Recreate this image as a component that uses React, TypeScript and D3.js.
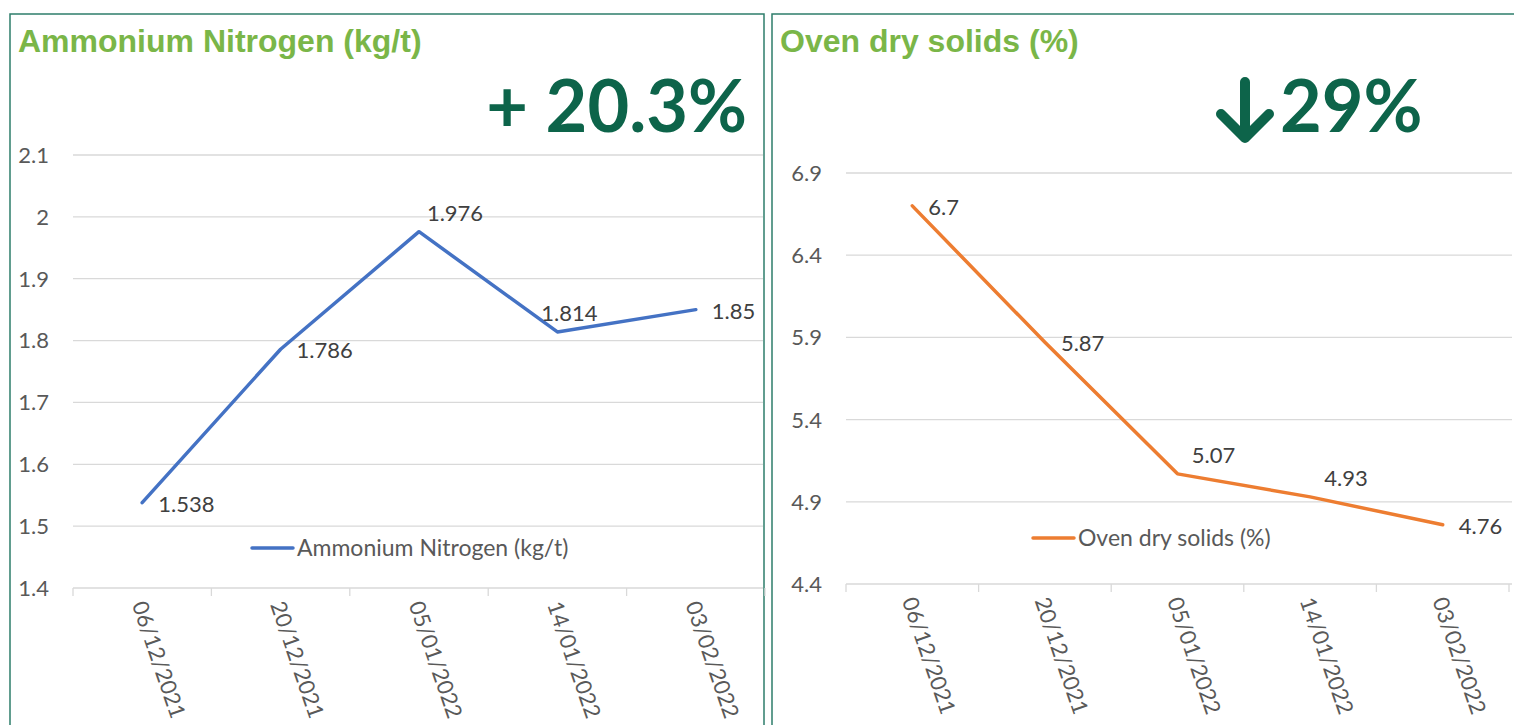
import React, { useEffect, useRef } from 'react';
import * as d3 from 'd3';

const dates = ['06/12/2021', '20/12/2021', '05/01/2022', '14/01/2022', '03/02/2022'];

const nitrogenValues = [1.538, 1.786, 1.976, 1.814, 1.85];
const nitrogenTicks = [1.4, 1.5, 1.6, 1.7, 1.8, 1.9, 2, 2.1];
const nitrogenLabelPos = ['right', 'right', 'aboveRight', 'above', 'right'];

const solidsValues = [6.7, 5.87, 5.07, 4.93, 4.76];
const solidsTicks = [4.4, 4.9, 5.4, 5.9, 6.4, 6.9];
const solidsLabelPos = ['right', 'right', 'aboveRight', 'aboveRight', 'right'];

const FONT = 'Lato, "Open Sans", sans-serif';
const TEXT = '#595959';
const GRID = '#D9D9D9';
const BORDER = '#2E7D6B';
const TITLE = '#7AB648';
const BIG = '#0D644A';

function drawPanel(svg, cfg) {
  const g = svg.append('g');

  // panel frame
  g.append('rect')
    .attr('x', cfg.frame[0])
    .attr('y', 14)
    .attr('width', cfg.frame[1] - cfg.frame[0])
    .attr('height', 760)
    .attr('fill', 'none')
    .attr('stroke', BORDER)
    .attr('stroke-width', 1.5);

  g.append('text')
    .attr('x', cfg.frame[0] + 8)
    .attr('y', 52)
    .attr('font-family', '"Liberation Sans", Arial, sans-serif')
    .attr('font-weight', 'bold')
    .attr('font-size', 32)
    .attr('fill', TITLE)
    .text(cfg.title);

  const x = d3.scaleBand().domain(dates).range([cfg.left, cfg.right]);
  const y = d3
    .scaleLinear()
    .domain(d3.extent(cfg.ticks))
    .range([cfg.bottom, cfg.top]);

  // gridlines
  g.selectAll('.grid')
    .data(cfg.ticks)
    .enter()
    .append('line')
    .attr('x1', cfg.left)
    .attr('x2', cfg.gridEnd)
    .attr('y1', d => y(d))
    .attr('y2', d => y(d))
    .attr('stroke', GRID)
    .attr('stroke-width', 1.3);

  // y tick labels
  g.selectAll('.ytick')
    .data(cfg.ticks)
    .enter()
    .append('text')
    .attr('x', cfg.left - 24)
    .attr('y', d => y(d))
    .attr('dy', '0.36em')
    .attr('text-anchor', 'end')
    .attr('font-family', FONT)
    .attr('font-size', 22)
    .attr('fill', TEXT)
    .text(d => String(d));

  // x tick marks
  const edges = dates.map(d => x(d)).concat([cfg.right]);
  g.selectAll('.xtick')
    .data(edges)
    .enter()
    .append('line')
    .attr('x1', d => d)
    .attr('x2', d => d)
    .attr('y1', cfg.bottom)
    .attr('y2', cfg.bottom + 8)
    .attr('stroke', GRID)
    .attr('stroke-width', 1.3);

  // rotated date labels
  g.selectAll('.xlabel')
    .data(dates)
    .enter()
    .append('text')
    .attr('transform', d => `translate(${x(d) + x.bandwidth() / 2 - 3}, ${cfg.bottom + 14}) rotate(71)`)
    .attr('dy', '0.36em')
    .attr('font-family', FONT)
    .attr('font-size', 22)
    .attr('fill', TEXT)
    .text(d => d);

  const cx = (_, i) => x(dates[i]) + x.bandwidth() / 2;

  const line = d3
    .line()
    .x(cx)
    .y(d => y(d));

  g.append('path')
    .datum(cfg.values)
    .attr('d', line)
    .attr('fill', 'none')
    .attr('stroke', cfg.color)
    .attr('stroke-width', 3.5)
    .attr('stroke-linecap', 'round')
    .attr('stroke-linejoin', 'round');

  // data labels
  g.selectAll('.dlabel')
    .data(cfg.values)
    .enter()
    .append('text')
    .attr('x', (d, i) => {
      const p = cfg.labelPos[i];
      if (p === 'right') return cx(d, i) + 16;
      if (p === 'aboveRight') return cx(d, i) + 36;
      return cx(d, i) + 12;
    })
    .attr('y', (d, i) => (cfg.labelPos[i] === 'right' ? y(d) + 1 : y(d) - 19))
    .attr('dy', '0.36em')
    .attr('text-anchor', (_, i) => (cfg.labelPos[i] === 'right' ? 'start' : 'middle'))
    .attr('font-family', FONT)
    .attr('font-size', 22)
    .attr('fill', '#404040')
    .text(d => String(d));

  // legend
  g.append('line')
    .attr('x1', cfg.legend[0])
    .attr('x2', cfg.legend[0] + 41)
    .attr('y1', cfg.legend[1])
    .attr('y2', cfg.legend[1])
    .attr('stroke', cfg.color)
    .attr('stroke-width', 3.5)
    .attr('stroke-linecap', 'round');

  g.append('text')
    .attr('x', cfg.legend[0] + 45)
    .attr('y', cfg.legend[1])
    .attr('dy', '0.36em')
    .attr('font-family', FONT)
    .attr('font-size', 23)
    .attr('fill', TEXT)
    .text(cfg.title);

  return g;
}

export default function App() {
  const ref = useRef(null);

  useEffect(() => {
    const svg = d3.select(ref.current);
    svg.selectAll('*').remove();

    drawPanel(svg, {
      title: 'Ammonium Nitrogen (kg/t)',
      frame: [10, 764],
      left: 73,
      right: 765,
      gridEnd: 763,
      top: 155,
      bottom: 588,
      ticks: nitrogenTicks,
      values: nitrogenValues,
      labelPos: nitrogenLabelPos,
      color: '#4472C4',
      legend: [252, 548]
    });

    const right = drawPanel(svg, {
      title: 'Oven dry solids (%)',
      frame: [772, 1520],
      left: 846,
      right: 1509,
      gridEnd: 1512,
      top: 173,
      bottom: 584,
      ticks: solidsTicks,
      values: solidsValues,
      labelPos: solidsLabelPos,
      color: '#ED7D31',
      legend: [1033, 538]
    });

    // headline figures
    svg.append('text')
      .attr('x', 747)
      .attr('y', 132)
      .attr('text-anchor', 'end')
      .attr('font-family', FONT)
      .attr('font-weight', 'bold')
      .attr('font-size', 72)
      .attr('fill', BIG)
      .text('+ 20.3%');

    right.append('path')
      .attr('d', 'M1245,82 L1245,137 M1221,114 L1245,138 L1269,114')
      .attr('fill', 'none')
      .attr('stroke', BIG)
      .attr('stroke-width', 10)
      .attr('stroke-linecap', 'round')
      .attr('stroke-linejoin', 'round');

    right.append('text')
      .attr('x', 1280)
      .attr('y', 132)
      .attr('font-family', FONT)
      .attr('font-weight', 'bold')
      .attr('font-size', 72)
      .attr('fill', BIG)
      .text('29%');
  }, []);

  return (
    <svg
      ref={ref}
      width={1514}
      height={725}
      style={{ position: 'absolute', left: 0, top: 0, background: '#fff' }}
    />
  );
}
